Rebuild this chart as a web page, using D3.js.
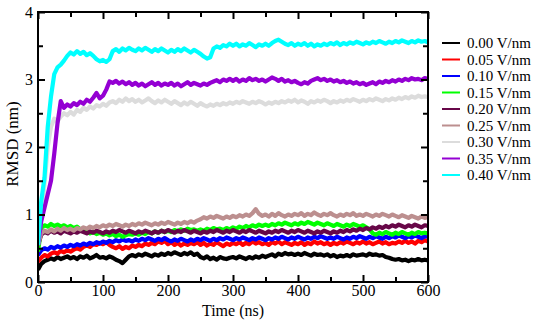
<!DOCTYPE html>
<meta charset="utf-8">
<script src="https://d3js.org/d3.v7.min.js"></script>
<style>
body { margin: 0; background: #fff; }
</style>
<div id="my_dataviz"></div>
<script>

// sample times (ns), one value every 5 ns
var times = d3.range(0, 601, 5);

// RMSD (nm)
var rmsd000 = [0.18,0.27,0.31,0.33,0.35,0.33,0.37,0.34,0.36,0.38,
  0.35,0.37,0.34,0.38,0.36,0.39,0.35,0.37,0.40,0.36,
  0.37,0.35,0.38,0.36,0.33,0.31,0.28,0.33,0.38,0.40,
  0.38,0.41,0.39,0.42,0.40,0.38,0.41,0.39,0.42,0.40,
  0.43,0.41,0.44,0.42,0.40,0.43,0.41,0.44,0.40,0.42,
  0.37,0.35,0.38,0.34,0.36,0.33,0.37,0.35,0.34,0.36,
  0.37,0.35,0.38,0.36,0.34,0.37,0.35,0.38,0.36,0.39,
  0.37,0.39,0.41,0.38,0.42,0.40,0.43,0.41,0.42,0.40,
  0.42,0.40,0.43,0.41,0.39,0.42,0.40,0.41,0.39,0.41,
  0.38,0.40,0.37,0.39,0.38,0.40,0.38,0.41,0.39,0.40,
  0.41,0.39,0.42,0.40,0.41,0.39,0.40,0.37,0.36,0.34,
  0.33,0.34,0.32,0.33,0.31,0.33,0.32,0.34,0.32,0.33,
  0.32];
var rmsd005 = [0.30,0.36,0.40,0.38,0.42,0.44,0.42,0.46,0.44,0.47,
  0.45,0.48,0.50,0.48,0.52,0.54,0.52,0.56,0.55,0.58,
  0.56,0.59,0.55,0.52,0.50,0.53,0.49,0.52,0.50,0.54,
  0.52,0.55,0.53,0.57,0.55,0.58,0.56,0.60,0.58,0.61,
  0.56,0.59,0.55,0.58,0.54,0.57,0.55,0.58,0.56,0.59,
  0.55,0.58,0.54,0.57,0.55,0.59,0.56,0.53,0.57,0.55,
  0.58,0.56,0.59,0.55,0.58,0.56,0.60,0.57,0.59,0.56,
  0.58,0.55,0.59,0.57,0.60,0.56,0.59,0.57,0.55,0.58,
  0.56,0.59,0.55,0.58,0.56,0.60,0.57,0.59,0.56,0.58,
  0.55,0.58,0.56,0.59,0.57,0.60,0.58,0.56,0.59,0.57,
  0.60,0.57,0.59,0.56,0.58,0.60,0.57,0.59,0.56,0.58,
  0.57,0.60,0.58,0.61,0.58,0.60,0.57,0.61,0.59,0.62,
  0.60];
var rmsd010 = [0.40,0.47,0.50,0.48,0.52,0.50,0.53,0.51,0.54,0.52,
  0.55,0.53,0.56,0.54,0.57,0.55,0.58,0.56,0.59,0.57,
  0.60,0.58,0.61,0.59,0.62,0.60,0.63,0.61,0.62,0.60,
  0.63,0.61,0.64,0.62,0.65,0.63,0.61,0.64,0.62,0.65,
  0.62,0.60,0.63,0.61,0.64,0.62,0.60,0.63,0.61,0.64,
  0.62,0.65,0.63,0.61,0.64,0.62,0.65,0.63,0.66,0.64,
  0.62,0.65,0.63,0.66,0.64,0.62,0.65,0.63,0.66,0.64,
  0.62,0.65,0.63,0.66,0.64,0.67,0.65,0.63,0.66,0.64,
  0.67,0.65,0.63,0.66,0.64,0.67,0.65,0.68,0.66,0.64,
  0.66,0.64,0.67,0.65,0.63,0.66,0.64,0.67,0.65,0.68,
  0.66,0.64,0.67,0.65,0.68,0.66,0.64,0.67,0.65,0.68,
  0.66,0.69,0.67,0.65,0.68,0.66,0.69,0.67,0.65,0.68,
  0.67];
var rmsd015 = [0.45,0.80,0.84,0.82,0.86,0.83,0.85,0.82,0.84,0.81,
  0.83,0.80,0.82,0.78,0.76,0.74,0.72,0.74,0.71,0.73,
  0.70,0.72,0.69,0.71,0.68,0.70,0.67,0.69,0.71,0.70,
  0.72,0.70,0.73,0.71,0.74,0.72,0.75,0.73,0.76,0.74,
  0.76,0.74,0.77,0.75,0.78,0.76,0.79,0.77,0.78,0.76,
  0.78,0.76,0.79,0.77,0.80,0.78,0.79,0.77,0.80,0.78,
  0.81,0.79,0.82,0.80,0.83,0.81,0.84,0.82,0.85,0.83,
  0.85,0.83,0.86,0.84,0.87,0.85,0.88,0.86,0.84,0.87,
  0.85,0.88,0.86,0.89,0.87,0.85,0.88,0.86,0.84,0.87,
  0.85,0.83,0.86,0.84,0.82,0.85,0.83,0.86,0.84,0.82,
  0.84,0.81,0.78,0.72,0.70,0.73,0.71,0.74,0.72,0.70,
  0.73,0.71,0.74,0.72,0.70,0.73,0.71,0.74,0.72,0.73,
  0.72];
var rmsd020 = [0.55,0.70,0.74,0.72,0.76,0.73,0.75,0.72,0.76,0.74,
  0.72,0.75,0.73,0.76,0.74,0.72,0.75,0.73,0.76,0.74,
  0.72,0.75,0.73,0.76,0.74,0.77,0.75,0.73,0.76,0.74,
  0.72,0.75,0.73,0.76,0.74,0.72,0.75,0.73,0.76,0.74,
  0.77,0.75,0.73,0.76,0.74,0.77,0.75,0.73,0.76,0.74,
  0.72,0.75,0.73,0.76,0.74,0.77,0.75,0.73,0.76,0.74,
  0.77,0.75,0.73,0.76,0.74,0.77,0.75,0.73,0.76,0.74,
  0.72,0.75,0.73,0.76,0.74,0.77,0.75,0.73,0.76,0.74,
  0.77,0.75,0.73,0.76,0.74,0.72,0.75,0.73,0.76,0.74,
  0.72,0.75,0.73,0.76,0.74,0.77,0.75,0.78,0.76,0.79,
  0.77,0.80,0.78,0.81,0.79,0.82,0.80,0.83,0.81,0.84,
  0.82,0.85,0.83,0.81,0.84,0.82,0.85,0.83,0.81,0.84,
  0.83];
var rmsd025 = [0.55,0.72,0.76,0.74,0.78,0.75,0.79,0.76,0.80,0.77,
  0.79,0.76,0.80,0.78,0.81,0.79,0.82,0.80,0.83,0.81,
  0.84,0.82,0.85,0.83,0.86,0.84,0.82,0.85,0.83,0.86,
  0.84,0.87,0.85,0.88,0.86,0.84,0.87,0.85,0.88,0.86,
  0.89,0.87,0.85,0.88,0.86,0.89,0.87,0.90,0.88,0.91,
  0.93,0.96,0.94,0.97,0.95,0.98,0.96,0.94,0.97,0.95,
  0.98,0.96,0.99,0.97,1.00,0.98,1.02,1.08,1.01,0.98,
  1.00,0.97,1.01,0.98,1.02,0.99,0.97,1.00,0.98,1.01,
  0.99,1.02,0.98,1.01,0.99,1.03,1.00,0.98,1.01,0.99,
  1.02,0.99,0.97,1.00,0.98,1.01,0.99,1.02,0.98,1.00,
  0.98,1.01,0.99,0.97,1.00,0.98,1.01,0.99,0.97,1.00,
  0.98,0.96,0.99,0.97,0.95,0.98,0.96,0.94,0.97,0.95,
  0.96];
var rmsd030 = [0.55,0.95,1.45,2.00,2.30,2.42,2.38,2.45,2.50,2.47,
  2.52,2.48,2.55,2.52,2.58,2.55,2.60,2.57,2.62,2.60,
  2.64,2.61,2.66,2.68,2.65,2.70,2.67,2.72,2.68,2.71,
  2.67,2.70,2.66,2.69,2.72,2.68,2.65,2.69,2.66,2.70,
  2.67,2.64,2.68,2.65,2.62,2.66,2.63,2.67,2.64,2.61,
  2.65,2.62,2.60,2.63,2.61,2.64,2.62,2.65,2.63,2.66,
  2.64,2.67,2.65,2.68,2.66,2.64,2.67,2.65,2.68,2.66,
  2.63,2.66,2.64,2.67,2.65,2.68,2.66,2.69,2.67,2.70,
  2.66,2.69,2.67,2.64,2.68,2.66,2.69,2.67,2.70,2.68,
  2.65,2.68,2.66,2.69,2.67,2.70,2.68,2.71,2.69,2.67,
  2.70,2.68,2.71,2.69,2.72,2.70,2.68,2.71,2.69,2.72,
  2.70,2.73,2.71,2.74,2.72,2.75,2.73,2.76,2.74,2.75,
  2.74];
var rmsd035 = [0.55,0.90,1.10,1.30,1.50,1.90,2.35,2.68,2.58,2.63,
  2.60,2.65,2.62,2.67,2.64,2.70,2.67,2.73,2.80,2.72,
  2.76,2.85,2.97,2.95,2.98,2.94,2.97,2.93,2.96,2.92,
  2.95,2.91,2.94,2.90,2.93,2.96,2.92,2.95,2.91,2.94,
  2.92,2.95,2.91,2.94,2.90,2.93,2.96,2.92,2.95,2.93,
  2.91,2.94,2.92,2.95,2.97,2.99,2.96,3.00,2.98,3.01,
  2.98,3.01,2.97,3.00,2.98,3.02,2.99,3.01,2.98,3.00,
  2.97,3.00,3.03,3.01,2.98,3.01,2.97,2.99,2.96,2.98,
  2.95,2.93,2.96,2.94,2.98,3.00,3.02,2.99,3.01,2.98,
  3.00,2.97,2.99,2.96,2.98,2.95,2.97,2.94,2.96,2.93,
  2.95,2.92,2.94,2.96,2.93,2.97,2.95,2.98,2.96,2.99,
  2.97,3.00,2.98,3.01,2.99,3.02,3.00,3.01,2.99,3.02,
  3.01];
var rmsd040 = [0.55,1.20,1.55,2.30,2.75,3.08,3.18,3.22,3.28,3.35,
  3.40,3.37,3.42,3.38,3.41,3.36,3.39,3.35,3.30,3.27,
  3.29,3.26,3.30,3.42,3.45,3.41,3.46,3.43,3.47,3.44,
  3.42,3.46,3.43,3.47,3.44,3.41,3.45,3.42,3.46,3.43,
  3.40,3.44,3.41,3.45,3.42,3.46,3.43,3.40,3.44,3.41,
  3.38,3.34,3.31,3.33,3.46,3.49,3.47,3.51,3.49,3.53,
  3.50,3.53,3.49,3.52,3.50,3.54,3.51,3.48,3.52,3.50,
  3.53,3.50,3.54,3.57,3.59,3.56,3.53,3.51,3.54,3.50,
  3.53,3.51,3.54,3.50,3.53,3.49,3.52,3.50,3.53,3.51,
  3.54,3.52,3.55,3.51,3.54,3.52,3.55,3.53,3.56,3.54,
  3.52,3.55,3.53,3.56,3.54,3.57,3.55,3.53,3.56,3.54,
  3.57,3.55,3.58,3.56,3.54,3.57,3.55,3.58,3.56,3.57,
  3.55];

var seriesNames = ["0.00 V/nm", "0.05 V/nm", "0.10 V/nm", "0.15 V/nm", "0.20 V/nm",
                   "0.25 V/nm", "0.30 V/nm", "0.35 V/nm", "0.40 V/nm"];
var seriesValues = [rmsd000, rmsd005, rmsd010, rmsd015, rmsd020,
                    rmsd025, rmsd030, rmsd035, rmsd040];
var seriesColors = ["#000000", "#ff0000", "#0000ff", "#00ff00", "#670748",
                    "#bc8f8f", "#dcdcdc", "#9400d3", "#00ffff"];

var xTicks = [0, 100, 200, 300, 400, 500, 600];
var xMinor = [50, 150, 250, 350, 450, 550];
var yTicks = [0, 1, 2, 3, 4];
var yMinor = [0.5, 1.5, 2.5, 3.5];

var font = "'Liberation Serif', 'Times New Roman', serif";

// plot box
var margin = {top: 12, right: 122, bottom: 40, left: 38},
    width = 550 - margin.left - margin.right,
    height = 322 - margin.top - margin.bottom;

var svg = d3.select("#my_dataviz")
  .append("svg")
    .attr("width", 550)
    .attr("height", 322)
  .append("g")
    .attr("transform", "translate(" + margin.left + "," + margin.top + ")");

var x = d3.scaleLinear().domain([0, 600]).range([0, width]);
var y = d3.scaleLinear().domain([0, 4]).range([height, 0]);

svg.append("clipPath").attr("id", "clip")
  .append("rect").attr("width", width).attr("height", height);

// lines
var line = d3.line()
  .x(function(d, i) { return x(times[i]); })
  .y(function(d) { return y(d); });

svg.append("g")
  .attr("clip-path", "url(#clip)")
  .selectAll("path")
  .data(seriesValues)
  .enter()
  .append("path")
    .attr("d", line)
    .attr("fill", "none")
    .attr("stroke", function(d, i) { return seriesColors[i]; })
    .attr("stroke-width", 4.2)
    .attr("stroke-linejoin", "round");

// axes, ticks pointing inwards
function styleAxis(g) {
  g.attr("font-family", font);
  g.select(".domain").remove();
  g.selectAll(".tick line").attr("stroke", "#000").attr("stroke-width", 2);
  g.selectAll(".tick text").attr("fill", "#000").style("font-size", "16px");
}

svg.append("g")
  .attr("transform", "translate(0," + height + ")")
  .call(d3.axisBottom(x).tickValues(xTicks).tickSize(-7).tickPadding(3).tickFormat(d3.format("d")))
  .call(styleAxis);
svg.append("g")
  .attr("transform", "translate(0," + height + ")")
  .call(d3.axisBottom(x).tickValues(xMinor).tickSize(-5).tickFormat(""))
  .call(styleAxis);
svg.append("g")
  .call(d3.axisTop(x).tickValues(xTicks).tickSize(-7).tickFormat(""))
  .call(styleAxis);
svg.append("g")
  .call(d3.axisTop(x).tickValues(xMinor).tickSize(-5).tickFormat(""))
  .call(styleAxis);

svg.append("g")
  .call(d3.axisLeft(y).tickValues(yTicks).tickSize(-7).tickPadding(5).tickFormat(d3.format("d")))
  .call(styleAxis);
svg.append("g")
  .call(d3.axisLeft(y).tickValues(yMinor).tickSize(-5).tickFormat(""))
  .call(styleAxis);
svg.append("g")
  .attr("transform", "translate(" + width + ",0)")
  .call(d3.axisRight(y).tickValues(yTicks).tickSize(-7).tickFormat(""))
  .call(styleAxis);
svg.append("g")
  .attr("transform", "translate(" + width + ",0)")
  .call(d3.axisRight(y).tickValues(yMinor).tickSize(-5).tickFormat(""))
  .call(styleAxis);

// frame
svg.append("rect")
  .attr("width", width)
  .attr("height", height)
  .attr("fill", "none")
  .attr("stroke", "#000")
  .attr("stroke-width", 2);

// axis titles
svg.append("text")
  .attr("x", width / 2)
  .attr("y", height + 34)
  .attr("text-anchor", "middle")
  .attr("font-family", font)
  .style("font-size", "16px")
  .text("Time (ns)");

svg.append("text")
  .attr("transform", "rotate(-90)")
  .attr("x", -height / 2 + 3)
  .attr("y", -20)
  .attr("text-anchor", "middle")
  .attr("font-family", font)
  .style("font-size", "17px")
  .text("RMSD (nm)");

// legend
var legend = svg.append("g")
  .attr("transform", "translate(" + (width + 14) + ",31)");

var rows = legend.selectAll("g")
  .data(seriesNames)
  .enter()
  .append("g")
    .attr("transform", function(d, i) { return "translate(0," + (i * 16.5) + ")"; });

rows.append("line")
  .attr("x1", 0).attr("x2", 18)
  .attr("stroke", function(d, i) { return seriesColors[i]; })
  .attr("stroke-width", 2);

rows.append("text")
  .attr("x", 25)
  .attr("y", 5)
  .attr("font-family", font)
  .style("font-size", "15px")
  .text(function(d) { return d; });

</script>
